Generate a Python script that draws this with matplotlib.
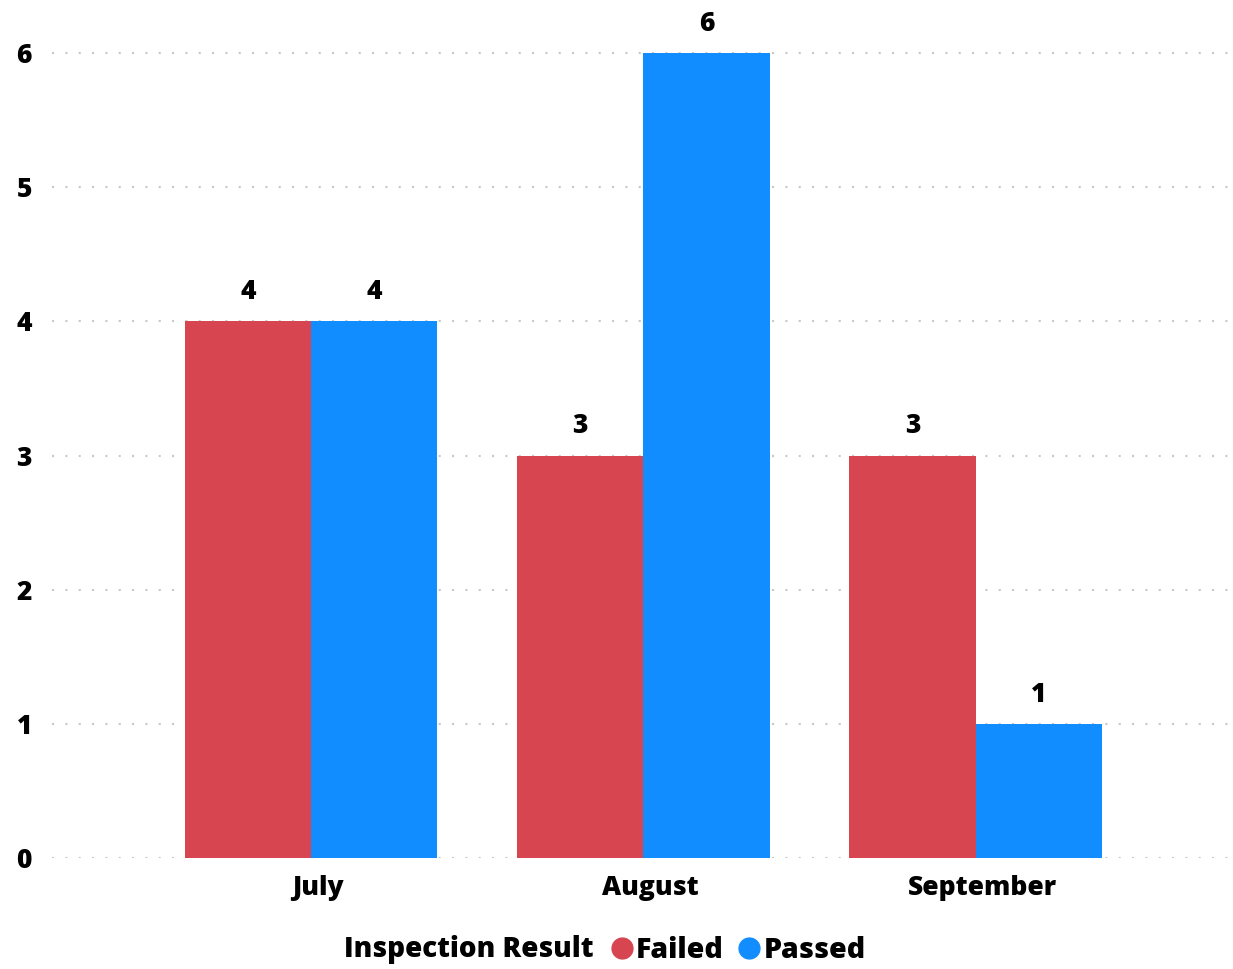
import numpy as np
from matplotlib import pyplot as plt
from matplotlib.lines import Line2D

months = ["July", "August", "September"]
failed = [4, 3, 3]
passed = [4, 6, 1]
yticks = [0, 1, 2, 3, 4, 5, 6]

red = "#D64550"
blue = "#118DFF"

plt.rcParams["font.family"] = ["Open Sans", "DejaVu Sans"]
plt.rcParams["font.weight"] = 800

fig = plt.figure(figsize=(12.33, 9.69), dpi=100)
ax = fig.add_axes([0.0422, 0.1146, 0.9538, 0.8514])

x = np.arange(len(months))
w = 0.38
b1 = ax.bar(x - w/2, failed, w, color=red, zorder=2)
b2 = ax.bar(x + w/2, passed, w, color=blue, zorder=2)

# value labels above each bar
for bars in (b1, b2):
    for r in bars:
        ax.text(r.get_x() + r.get_width()/2, r.get_height() + 0.12, str(int(r.get_height())),
                ha="center", va="bottom", fontsize=19, fontweight=800)

ax.set_xlim(-0.78, 2.76)
ax.set_ylim(0, 6.15)
ax.set_yticks(yticks)
ax.set_xticks(x + 0.02)
ax.set_xticklabels(months)
ax.yaxis.grid(True, color="#C8C8C8", linewidth=1.5, linestyle=(0, (1, 5.4)), zorder=0)
ax.tick_params(length=0, labelsize=19)
ax.tick_params(axis="x", pad=12)
ax.tick_params(axis="y", pad=0)
for lab in ax.get_yticklabels():
    lab.set_horizontalalignment("left")
    lab.set_x(-0.0422 + 0.012)
for s in ax.spines.values():
    s.set_visible(False)

ly = 1 - 950 / 969
fig.text(0.481, ly, "Inspection Result", ha="right", va="center", fontsize=20, fontweight=800)
handles = [Line2D([], [], marker="o", linestyle="", color=red, markersize=15),
           Line2D([], [], marker="o", linestyle="", color=blue, markersize=15)]
fig.legend(handles, ["Failed", "Passed"], loc="center left", bbox_to_anchor=(0.488, ly),
           ncol=2, frameon=False, prop={"size": 20.5, "weight": 800}, handlelength=0.6,
           handletextpad=0.2, columnspacing=0.6, borderaxespad=0)

fig.savefig("out.png")
